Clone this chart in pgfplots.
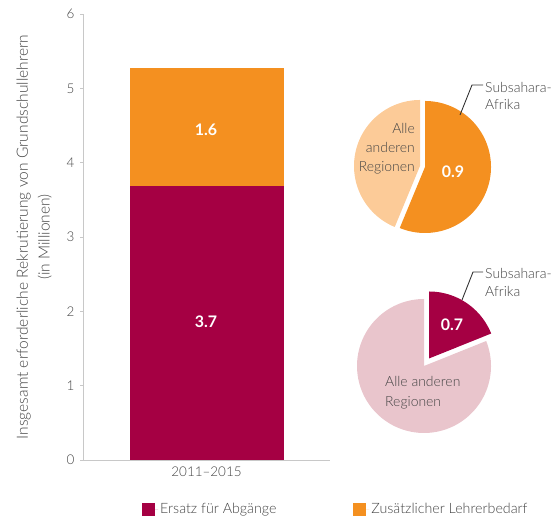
\documentclass[border=0pt]{standalone}
\usepackage{fontspec}
\setmainfont{Lato}[UprightFont=* Light, BoldFont=* Bold]
\usepackage{pgfplots}
\pgfplotsset{compat=1.18}
\definecolor{darkmag}{HTML}{A50043}
\definecolor{orng}{HTML}{F49020}
\definecolor{lightorng}{HTML}{FCCB98}
\definecolor{lightpink}{HTML}{E9C5CC}
\definecolor{txt}{HTML}{444444}
\definecolor{axisgray}{HTML}{C8C8C8}
\pgfmathsetmacro\topA{90-360*0.9/1.6}
\pgfmathsetmacro\botA{90-360*0.7/3.7}
\begin{document}
\begin{tikzpicture}[x=1bp,y=1bp]
\useasboundingbox (0,0) rectangle (556,519);
\coordinate (mainSW) at (83,59);
\begin{axis}[
  at={(mainSW)}, anchor=south west, width=247bp, height=446bp, scale only axis,
  ybar stacked, bar width=154bp,
  xmin=-0.8, xmax=0.8, ymin=0, ymax=6,
  xtick={0}, xticklabels={2011--2015},
  ytick={0,1,2,3,4,5,6},
  axis x line*=bottom, axis y line*=left,
  axis line style={draw=axisgray, line width=0.8pt, -},
  xtick style={draw=none},
  ytick style={draw=axisgray, line width=0.8pt},
  major tick length=3bp, tick align=outside,
  /pgf/number format/assume math mode=true,
  tick label style={font=\fontsize{13.5}{16}\selectfont, text=txt},
  yticklabel style={xshift=-2bp},
  ylabel={Insgesamt erforderliche Rekrutierung von Grundschullehrern\\(in Millionen)},
  ylabel style={align=center, font=\fontsize{15.6}{22}\selectfont, text=txt,
    at={(axis description cs:-0.198,0.5)}, anchor=center},
  legend columns=2,
  legend style={at={(0.239,-0.11)}, anchor=west, draw=none, fill=none,
    inner sep=0pt, font=\fontsize{14.3}{17}\selectfont, text=txt,
    /tikz/every even column/.append style={column sep=75bp}},
  legend image code/.code={\fill[#1] (0bp,-6.5bp) rectangle (13bp,6.5bp); \path (0bp,0bp) -- (16bp,0bp);},
]
\addplot[fill=darkmag, draw=none] coordinates {(0,3.68)};
\addlegendentry{Ersatz für Abgänge}
\addplot[fill=orng, draw=none] coordinates {(0,1.59)};
\addlegendentry{Zusätzlicher Lehrerbedarf}
\end{axis}
\begin{axis}[at={(0,0)}, anchor=south west, x=1bp, y=1bp,
  xmin=0, xmax=556, ymin=0, ymax=519, hide axis, clip=false]
% bar value labels
\node[text=white, font=\bfseries\fontsize{16}{18}\selectfont] at (axis cs:206,197) {3.7};
\node[text=white, font=\bfseries\fontsize{16}{18}\selectfont] at (axis cs:206,389) {1.6};
% top pie (total 1.6: SSA 0.9, others 0.7)
\addplot[fill=lightorng, draw=none, domain=-270:\topA, samples=120, variable=\t]
  ({420+66*cos(\t)},{353+66*sin(\t)}) -- (axis cs:420,353) -- cycle;
\addplot[fill=orng, draw=none, domain=\topA:90, samples=120, variable=\t]
  ({425+66*cos(\t)},{352+66*sin(\t)}) -- (axis cs:425,352) -- cycle;
% bottom pie (total 3.7: SSA 0.7, others 3.0)
\addplot[fill=lightpink, draw=none, domain=-270:\botA, samples=120, variable=\t]
  ({424+67*cos(\t)},{153+67*sin(\t)}) -- (axis cs:424,153) -- cycle;
\addplot[fill=darkmag, draw=none, domain=\botA:90, samples=60, variable=\t]
  ({429+67*cos(\t)},{160.5+67*sin(\t)}) -- (axis cs:429,160.5) -- cycle;
% leader lines
\addplot[draw=black!80, line width=0.9pt, mark=none] coordinates {(460,404) (472,434) (483,434)};
\addplot[draw=black!80, line width=0.9pt, mark=none] coordinates {(462,219) (473,247) (483,247)};
% labels
\node[anchor=east, align=right, text=txt, font=\fontsize{14}{19}\selectfont, inner sep=0pt] at (axis cs:415,370) {Alle\\anderen\\Regionen};
\node[text=white, font=\bfseries\fontsize{16}{18}\selectfont] at (axis cs:453,347) {0.9};
\node[anchor=west, align=left, text=txt, font=\fontsize{14}{18}\selectfont, inner sep=0pt] at (axis cs:485,423) {Subsahara-\\Afrika};
\node[anchor=west, align=left, text=txt, font=\fontsize{14}{18}\selectfont, inner sep=0pt] at (axis cs:485,236.5) {Subsahara-\\Afrika};
\node[text=white, font=\bfseries\fontsize{16}{18}\selectfont] at (axis cs:452,194) {0.7};
\node[anchor=west, align=left, text=txt, font=\fontsize{14}{20}\selectfont, inner sep=0pt] at (axis cs:385,126) {Alle anderen\\Regionen};
\end{axis}
\end{tikzpicture}
\end{document}
